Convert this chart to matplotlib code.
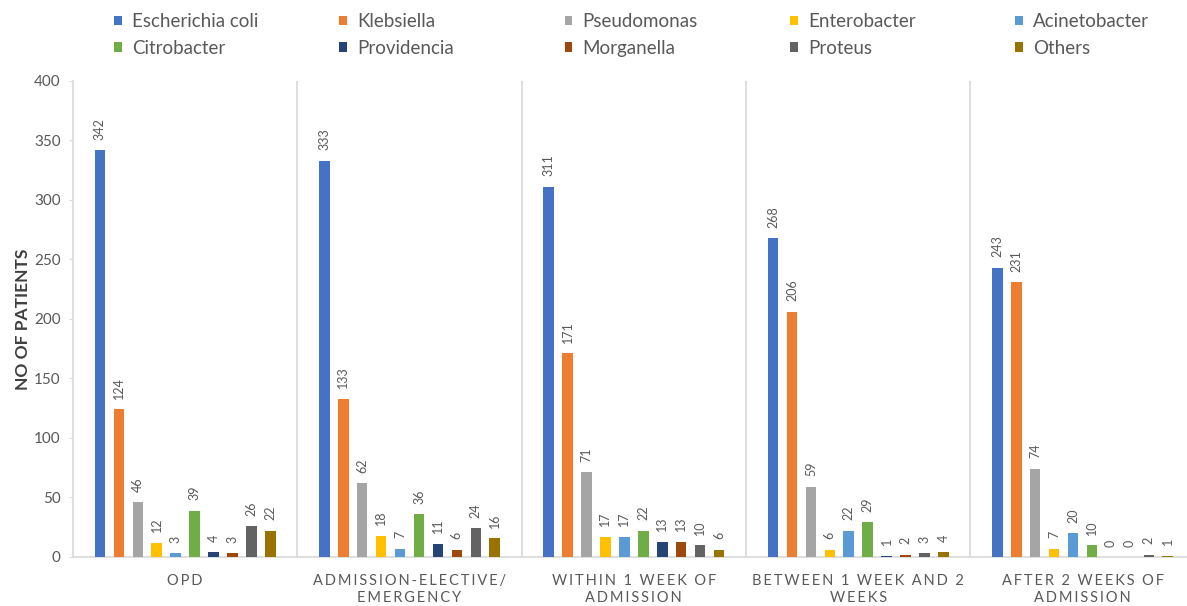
import matplotlib
matplotlib.use("Agg")
import matplotlib.pyplot as plt
import numpy as np
from matplotlib.patches import Patch

categories = ["OPD", "ADMISSION-ELECTIVE/\nEMERGENCY", "WITHIN 1 WEEK OF\nADMISSION",
              "BETWEEN 1 WEEK AND 2\nWEEKS", "AFTER 2 WEEKS OF\nADMISSION"]
series_names = ["Escherichia coli", "Klebsiella", "Pseudomonas", "Enterobacter", "Acinetobacter",
                "Citrobacter", "Providencia", "Morganella", "Proteus", "Others"]
ecoli = [342, 333, 311, 268, 243]
klebsiella = [124, 133, 171, 206, 231]
pseudomonas = [46, 62, 71, 59, 74]
enterobacter = [12, 18, 17, 6, 7]
acinetobacter = [3, 7, 17, 22, 20]
citrobacter = [39, 36, 22, 29, 10]
providencia = [4, 11, 13, 1, 0]
morganella = [3, 6, 13, 2, 0]
proteus = [26, 24, 10, 3, 2]
others = [22, 16, 6, 4, 1]
series_values = [ecoli, klebsiella, pseudomonas, enterobacter, acinetobacter,
                 citrobacter, providencia, morganella, proteus, others]
colors = ["#4472C4", "#ED7D31", "#A5A5A5", "#FFC000", "#5B9BD5",
          "#70AD47", "#264478", "#9E480E", "#636363", "#997300"]
yticks = [0, 50, 100, 150, 200, 250, 300, 350, 400]

FONT = ["Lato", "DejaVu Sans"]
plt.rcParams["font.family"] = FONT
TXT = "#595959"
GRID = "#D9D9D9"

fig = plt.figure(figsize=(11.87, 6.06), dpi=100)
ax = fig.add_axes([0.0615, 0.0809, 0.9450, 0.7855])

n = len(series_names)
spacing = 0.0844
width = 0.047
x = np.arange(len(categories))
for i, (name, vals, c) in enumerate(zip(series_names, series_values, colors)):
    pos = x + (i - (n - 1) / 2) * spacing
    bars = ax.bar(pos, vals, width=width, color=c, label=name, zorder=3)
    for b, v in zip(bars, vals):
        ax.annotate(str(v), (b.get_x() + b.get_width() / 2, v), xytext=(0, 7.5),
                    textcoords="offset points", rotation=90, ha="center", va="bottom",
                    fontsize=9, color=TXT)

ax.set_xlim(-0.5, len(categories) - 0.5)
ax.set_ylim(0, 400)
ax.set_yticks(yticks)
ax.tick_params(axis="y", length=3, color=GRID, labelsize=11, labelcolor=TXT, pad=6)
ax.vlines(x[1:] - 0.5, 0, 400, color=GRID, lw=1.2, zorder=1)
for s in ["top", "right"]:
    ax.spines[s].set_visible(False)
for s in ["bottom", "left"]:
    ax.spines[s].set_color(GRID)
    ax.spines[s].set_linewidth(1.2)

def spaced(s):
    return "\n".join("\u2009".join(list(line)) for line in s.split("\n"))

ax.set_xticks(x)
ax.set_xticklabels([spaced(c) for c in categories], fontsize=10.5, color=TXT, linespacing=1.3)
ax.tick_params(axis="x", length=0, pad=12)

ax.set_ylabel("NO OF PATIENTS", fontsize=12.5, fontweight="bold", color="#404040")
ax.yaxis.set_label_coords(-0.0375, 0.5)

handles = [Patch(facecolor=c, edgecolor="none") for c in colors]
x0 = 114 / 1187
dx = 225.25 / 1187
for j in range(5):
    fig.legend([handles[j], handles[j + 5]], [series_names[j], series_names[j + 5]],
               loc="upper left", bbox_to_anchor=(x0 + j * dx, 0.978), frameon=False,
               fontsize=13.5, labelcolor=TXT, handlelength=0.42, handleheight=0.42,
               handletextpad=0.55, labelspacing=0.5, borderaxespad=0, borderpad=0)

fig.savefig("out.png", dpi=100)
